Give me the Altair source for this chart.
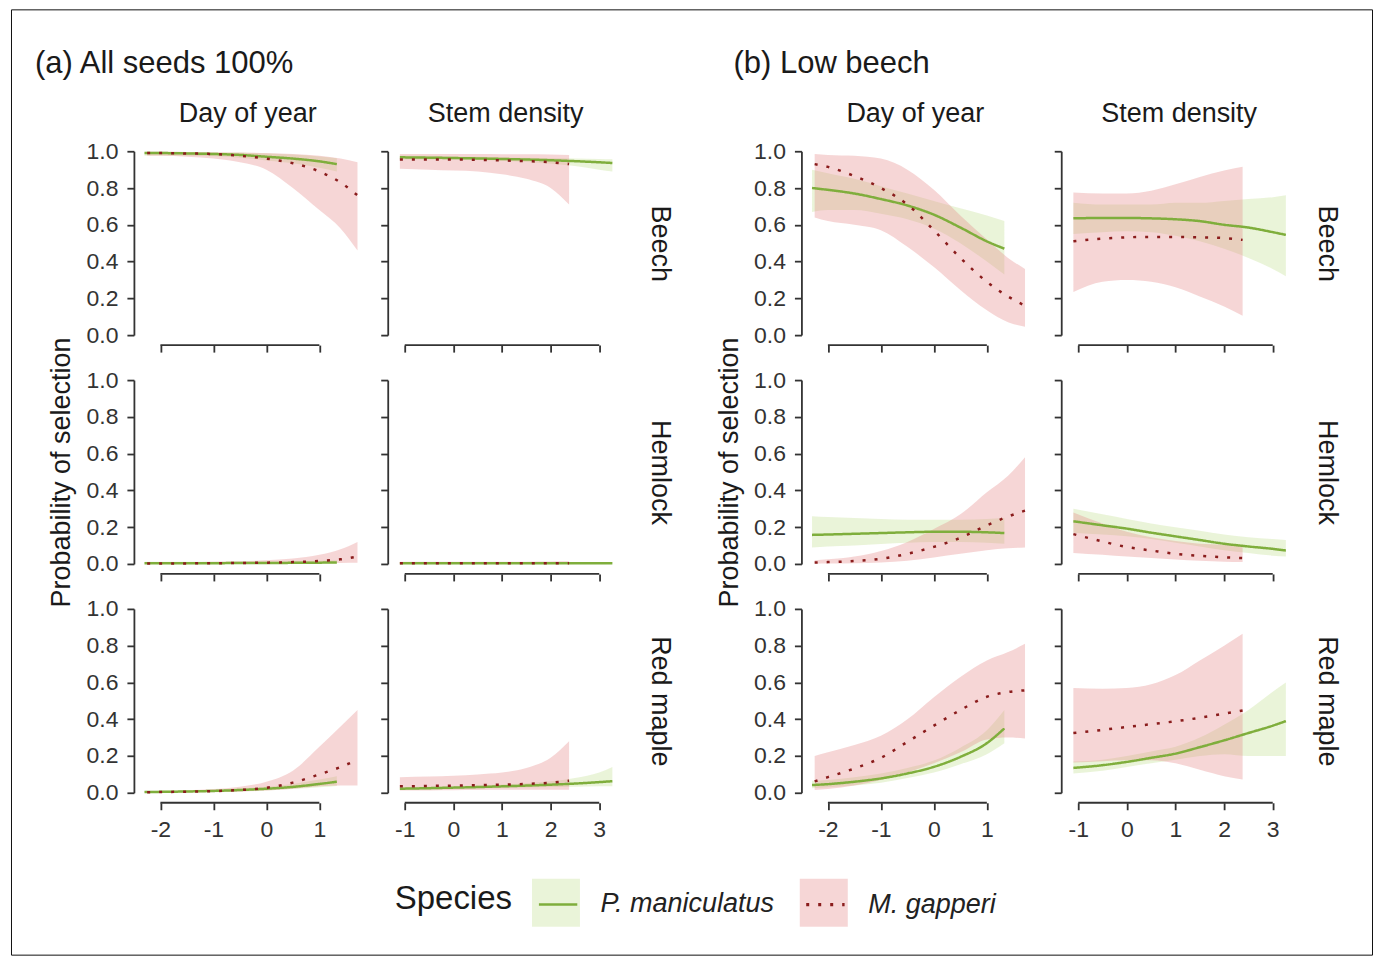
import altair as alt
import pandas as pd

# ---------------- categories / labels ----------------
species = ["P. maniculatus", "M. gapperi"]
trees = ["Beech", "Hemlock", "Red maple"]
variables = ["Day of year", "Stem density"]
group_titles = ["(a) All seeds 100%", "(b) Low beech"]

day_ticks = [-2, -1, 0, 1]
stem_ticks = [-1, 0, 1, 2, 3]
prob_ticks = [0.0, 0.2, 0.4, 0.6, 0.8, 1.0]

# ---------------- x grids (standardised covariate) ----------------
day_x_pm = [-2.3, -2.0, -1.5, -1.0, -0.5, 0.0, 0.5, 1.0, 1.33]
day_x_mg = [-2.25, -2.0, -1.5, -1.0, -0.5, 0.0, 0.5, 1.0, 1.4, 1.72]
stem_x_pm = [-1.1, -0.5, 0.0, 0.5, 1.0, 1.5, 2.0, 2.5, 3.0, 3.27]
stem_x_mg = [-1.1, -0.5, 0.0, 0.5, 1.0, 1.5, 2.0, 2.38]

# ---------------- (a) All seeds 100% ----------------
a_beech_day_pm_fit = [0.99, 0.99, 0.988, 0.985, 0.98, 0.97, 0.96, 0.945, 0.93]
a_beech_day_pm_lo = [0.975, 0.977, 0.976, 0.973, 0.965, 0.95, 0.935, 0.91, 0.89]
a_beech_day_pm_hi = [0.997, 0.997, 0.996, 0.995, 0.993, 0.988, 0.982, 0.972, 0.962]
a_beech_day_mg_fit = [0.99, 0.99, 0.988, 0.985, 0.975, 0.96, 0.935, 0.89, 0.83, 0.76]
a_beech_day_mg_lo = [0.975, 0.975, 0.97, 0.96, 0.94, 0.9, 0.8, 0.68, 0.58, 0.46]
a_beech_day_mg_hi = [0.997, 0.997, 0.996, 0.995, 0.993, 0.99, 0.985, 0.975, 0.96, 0.94]

a_hemlock_day_pm_fit = [0.004, 0.004, 0.004, 0.004, 0.005, 0.005, 0.006, 0.007, 0.008]
a_hemlock_day_pm_lo = [0.001, 0.001, 0.001, 0.001, 0.002, 0.002, 0.002, 0.002, 0.002]
a_hemlock_day_pm_hi = [0.012, 0.012, 0.012, 0.012, 0.012, 0.013, 0.015, 0.018, 0.02]
a_hemlock_day_mg_fit = [0.003, 0.003, 0.003, 0.004, 0.005, 0.007, 0.01, 0.016, 0.025, 0.04]
a_hemlock_day_mg_lo = [0.0, 0.0, 0.001, 0.001, 0.001, 0.002, 0.003, 0.004, 0.005, 0.006]
a_hemlock_day_mg_hi = [0.01, 0.01, 0.01, 0.012, 0.015, 0.02, 0.03, 0.05, 0.08, 0.12]

a_redmaple_day_pm_fit = [0.004, 0.005, 0.007, 0.01, 0.015, 0.022, 0.032, 0.048, 0.06]
a_redmaple_day_pm_lo = [0.002, 0.002, 0.003, 0.005, 0.008, 0.013, 0.02, 0.03, 0.037]
a_redmaple_day_pm_hi = [0.01, 0.011, 0.013, 0.017, 0.024, 0.033, 0.048, 0.072, 0.09]
a_redmaple_day_mg_fit = [0.003, 0.004, 0.006, 0.009, 0.015, 0.027, 0.055, 0.1, 0.14, 0.18]
a_redmaple_day_mg_lo = [0.001, 0.001, 0.002, 0.003, 0.006, 0.012, 0.022, 0.035, 0.04, 0.04]
a_redmaple_day_mg_hi = [0.008, 0.01, 0.014, 0.02, 0.033, 0.06, 0.12, 0.25, 0.36, 0.45]

a_beech_stem_pm_fit = [0.967, 0.965, 0.963, 0.961, 0.958, 0.955, 0.951, 0.946, 0.94, 0.936]
a_beech_stem_pm_lo = [0.955, 0.955, 0.955, 0.952, 0.948, 0.942, 0.932, 0.92, 0.9, 0.89]
a_beech_stem_pm_hi = [0.977, 0.975, 0.972, 0.97, 0.967, 0.965, 0.963, 0.96, 0.958, 0.956]
a_beech_stem_mg_fit = [0.955, 0.955, 0.955, 0.953, 0.95, 0.946, 0.94, 0.93]
a_beech_stem_mg_lo = [0.905, 0.9, 0.895, 0.89, 0.875, 0.85, 0.8, 0.71]
a_beech_stem_mg_hi = [0.985, 0.985, 0.985, 0.985, 0.984, 0.983, 0.982, 0.98]

a_hemlock_stem_pm_fit = [0.004, 0.004, 0.004, 0.004, 0.004, 0.004, 0.004, 0.004, 0.004, 0.004]
a_hemlock_stem_pm_lo = [0.002, 0.002, 0.002, 0.002, 0.002, 0.002, 0.002, 0.002, 0.002, 0.002]
a_hemlock_stem_pm_hi = [0.008, 0.008, 0.008, 0.008, 0.008, 0.008, 0.008, 0.009, 0.01, 0.01]
a_hemlock_stem_mg_fit = [0.004, 0.004, 0.004, 0.004, 0.004, 0.004, 0.004, 0.004]
a_hemlock_stem_mg_lo = [0.001, 0.001, 0.001, 0.001, 0.001, 0.001, 0.001, 0.001]
a_hemlock_stem_mg_hi = [0.012, 0.012, 0.012, 0.012, 0.012, 0.012, 0.013, 0.014]

a_redmaple_stem_pm_fit = [0.022, 0.025, 0.028, 0.031, 0.035, 0.039, 0.044, 0.05, 0.058, 0.063]
a_redmaple_stem_pm_lo = [0.015, 0.018, 0.021, 0.024, 0.027, 0.029, 0.031, 0.033, 0.035, 0.036]
a_redmaple_stem_pm_hi = [0.03, 0.033, 0.036, 0.04, 0.045, 0.052, 0.062, 0.08, 0.11, 0.14]
a_redmaple_stem_mg_fit = [0.035, 0.037, 0.039, 0.041, 0.044, 0.048, 0.055, 0.065]
a_redmaple_stem_mg_lo = [0.012, 0.013, 0.014, 0.015, 0.016, 0.016, 0.016, 0.016]
a_redmaple_stem_mg_hi = [0.085, 0.088, 0.092, 0.1, 0.11, 0.135, 0.19, 0.28]

# ---------------- (b) Low beech ----------------
b_beech_day_pm_fit = [0.80, 0.79, 0.77, 0.74, 0.705, 0.655, 0.585, 0.51, 0.47]
b_beech_day_pm_lo = [0.67, 0.68, 0.68, 0.66, 0.63, 0.58, 0.5, 0.4, 0.33]
b_beech_day_pm_hi = [0.9, 0.88, 0.85, 0.81, 0.77, 0.73, 0.69, 0.65, 0.62]
b_beech_day_mg_fit = [0.93, 0.915, 0.865, 0.8, 0.71, 0.57, 0.42, 0.29, 0.21, 0.16]
b_beech_day_mg_lo = [0.64, 0.62, 0.6, 0.57, 0.48, 0.37, 0.245, 0.135, 0.07, 0.045]
b_beech_day_mg_hi = [0.985, 0.98, 0.975, 0.96, 0.9, 0.79, 0.65, 0.52, 0.42, 0.36]

b_hemlock_day_pm_fit = [0.158, 0.16, 0.164, 0.168, 0.172, 0.175, 0.175, 0.172, 0.168]
b_hemlock_day_pm_lo = [0.09, 0.095, 0.1, 0.108, 0.115, 0.12, 0.12, 0.115, 0.11]
b_hemlock_day_pm_hi = [0.26, 0.255, 0.25, 0.245, 0.24, 0.24, 0.24, 0.245, 0.25]
b_hemlock_day_mg_fit = [0.008, 0.01, 0.016, 0.028, 0.055, 0.093, 0.142, 0.21, 0.258, 0.29]
b_hemlock_day_mg_lo = [0.001, 0.002, 0.004, 0.008, 0.018, 0.035, 0.055, 0.075, 0.085, 0.09]
b_hemlock_day_mg_hi = [0.02, 0.025, 0.04, 0.07, 0.12, 0.19, 0.27, 0.39, 0.48, 0.58]

b_redmaple_day_pm_fit = [0.042, 0.047, 0.06, 0.078, 0.105, 0.141, 0.195, 0.27, 0.35]
b_redmaple_day_pm_lo = [0.025, 0.03, 0.04, 0.055, 0.08, 0.11, 0.155, 0.21, 0.27]
b_redmaple_day_pm_hi = [0.065, 0.07, 0.085, 0.105, 0.135, 0.175, 0.245, 0.34, 0.45]
b_redmaple_day_mg_fit = [0.062, 0.085, 0.132, 0.19, 0.277, 0.365, 0.45, 0.522, 0.548, 0.557]
b_redmaple_day_mg_lo = [0.015, 0.02, 0.04, 0.07, 0.11, 0.16, 0.22, 0.29, 0.3, 0.295]
b_redmaple_day_mg_hi = [0.2, 0.22, 0.26, 0.31, 0.4, 0.52, 0.63, 0.72, 0.765, 0.81]

b_beech_stem_pm_fit = [0.635, 0.637, 0.637, 0.635, 0.63, 0.62, 0.6, 0.585, 0.56, 0.545]
b_beech_stem_pm_lo = [0.55, 0.56, 0.565, 0.56, 0.54, 0.51, 0.47, 0.42, 0.36, 0.32]
b_beech_stem_pm_hi = [0.72, 0.71, 0.71, 0.71, 0.72, 0.72, 0.73, 0.74, 0.75, 0.76]
b_beech_stem_mg_fit = [0.51, 0.525, 0.532, 0.534, 0.534, 0.532, 0.528, 0.518]
b_beech_stem_mg_lo = [0.235, 0.29, 0.3, 0.29, 0.26, 0.21, 0.155, 0.105]
b_beech_stem_mg_hi = [0.775, 0.77, 0.77, 0.785, 0.82, 0.86, 0.895, 0.915]

b_hemlock_stem_pm_fit = [0.232, 0.21, 0.192, 0.17, 0.15, 0.13, 0.11, 0.095, 0.082, 0.073]
b_hemlock_stem_pm_lo = [0.17, 0.16, 0.15, 0.135, 0.115, 0.095, 0.075, 0.06, 0.045, 0.04]
b_hemlock_stem_pm_hi = [0.3, 0.27, 0.245, 0.22, 0.2, 0.18, 0.16, 0.145, 0.135, 0.13]
b_hemlock_stem_mg_fit = [0.162, 0.122, 0.092, 0.073, 0.055, 0.044, 0.036, 0.032]
b_hemlock_stem_mg_lo = [0.06, 0.05, 0.04, 0.032, 0.024, 0.017, 0.012, 0.01]
b_hemlock_stem_mg_hi = [0.28, 0.22, 0.175, 0.145, 0.125, 0.11, 0.105, 0.1]

b_redmaple_stem_pm_fit = [0.135, 0.15, 0.168, 0.19, 0.213, 0.248, 0.285, 0.325, 0.365, 0.39]
b_redmaple_stem_pm_lo = [0.105, 0.12, 0.14, 0.16, 0.18, 0.2, 0.21, 0.2, 0.2, 0.2]
b_redmaple_stem_pm_hi = [0.17, 0.18, 0.2, 0.225, 0.25, 0.3, 0.37, 0.45, 0.55, 0.6]
b_redmaple_stem_mg_fit = [0.325, 0.342, 0.358, 0.373, 0.389, 0.408, 0.43, 0.448]
b_redmaple_stem_mg_lo = [0.165, 0.172, 0.177, 0.177, 0.16, 0.125, 0.09, 0.072]
b_redmaple_stem_mg_hi = [0.57, 0.566, 0.57, 0.59, 0.64, 0.72, 0.8, 0.865]

# ---------------- lookup tables built from the arrays above ----------------
G = globals()
tree_key = {"Beech": "beech", "Hemlock": "hemlock", "Red maple": "redmaple"}
var_key = {"Day of year": "day", "Stem density": "stem"}
x_grid = {"Day of year": (day_x_pm, day_x_mg), "Stem density": (stem_x_pm, stem_x_mg)}
x_ticks = {"Day of year": day_ticks, "Stem density": stem_ticks}

# ---------------- style ----------------
FONT = "Liberation Sans"
GREEN = "#7fae3c"
RED = "#8a1c1c"
GREEN_FILL = "#c3e092"
PINK_FILL = "#e58a8a"
AX = "#333333"
H = 184
WIDTH = {"Day of year": 228, "Stem density": 236}
XDOM = {"Day of year": [-2.5, 1.8], "Stem density": [-1.35, 3.5]}

# legend / frame positions are relative to the first panel's plot origin
LX, LY = 261, 728
LEG_TITLE_SIZE, LEG_LABEL_SIZE = 33, 27
TITLE_W = 3.557 * LEG_TITLE_SIZE      # advance width of "Species"
LABEL1_W = 6.558 * LEG_LABEL_SIZE     # advance width of italic "P. maniculatus"
TITLE_PAD, LABEL_OFF, COL_PAD, SYM = 20, 17, 25, 2304

# line keys (with the visible title and labels)
LEG_LINE = alt.Legend(
    title="Species", orient="none", legendX=LX, legendY=LY, direction="horizontal",
    titleOrient="left", titleFontSize=LEG_TITLE_SIZE, titleFontWeight="normal",
    titleColor="#1a1a1a", titlePadding=TITLE_PAD, titleAnchor="middle",
    titleBaseline="middle", titleLimit=400,
    labelFontSize=LEG_LABEL_SIZE, labelFontStyle="italic", labelColor="#222222",
    labelLimit=400, labelOffset=LABEL_OFF, columnPadding=COL_PAD,
    symbolSize=SYM, symbolType="M-0.8,0L0.8,0", symbolStrokeWidth=3, padding=0,
)
# ribbon keys drawn under the line keys (no text of their own)
LEG_FILL = alt.Legend(
    title=None, orient="none", legendX=LX + TITLE_W + TITLE_PAD, legendY=LY,
    direction="horizontal", labelExpr="''", labelFontSize=LEG_LABEL_SIZE,
    labelOffset=LABEL_OFF + LABEL1_W, columnPadding=COL_PAD, symbolSize=SYM,
    symbolType="square", symbolStrokeWidth=0, symbolOpacity=0.35, padding=0,
)
LEG_FRAME = alt.Legend(orient="none", legendX=-123, legendY=-142, direction="horizontal",
                       title=None, gradientLength=1362, gradientThickness=945,
                       gradientStrokeWidth=0, labelExpr="''", labelFontSize=1,
                       labelOffset=0, strokeColor="#111111", padding=0)


def panel_df(g, tree, var):
    rows = []
    pre = f"{g}_{tree_key[tree]}_{var_key[var]}"
    for sp, code, xs in zip(species, ["pm", "mg"], x_grid[var]):
        fit, lo, hi = G[f"{pre}_{code}_fit"], G[f"{pre}_{code}_lo"], G[f"{pre}_{code}_hi"]
        rows.append(pd.DataFrame({"x": xs, "fit": fit, "lo": lo, "hi": hi,
                                  "Species": sp, "Ribbon": sp}))
    return pd.concat(rows, ignore_index=True)


def panel(g, ti, vi):
    tree, var = trees[ti], variables[vi]
    df = panel_df(g, tree, var)
    W = WIDTH[var]
    xsc = alt.Scale(domain=XDOM[var], nice=False, zero=False)
    ysc = alt.Scale(domain=[0, 1], nice=False, zero=False)
    xaxis = alt.Axis(values=x_ticks[var], domain=False, offset=10, labels=(ti == 2),
                     labelExpr="'' + datum.value", title=None, grid=False)
    if vi == 0:
        yaxis = alt.Axis(values=prob_ticks, format=".1f", grid=False,
                         title="Probability of selection" if ti == 1 else None)
    else:
        yaxis = alt.Axis(values=prob_ticks, labels=False, grid=False, title=None)
    base = alt.Chart(df)
    area = base.mark_area(interpolate="monotone", opacity=0.35).encode(
        x=alt.X("x:Q", scale=xsc, axis=xaxis),
        y=alt.Y("lo:Q", scale=ysc, axis=yaxis),
        y2="hi:Q",
        fill=alt.Fill("Ribbon:N", sort=species,
                      scale=alt.Scale(range=[GREEN_FILL, PINK_FILL]), legend=LEG_FILL),
    )
    if vi == 1:
        line_axis = alt.Axis(orient="right", title=tree, labels=False, ticks=False,
                             domain=False, grid=False, titleAngle=90,
                             titlePadding=22 if g == "a" else 15,
                             titleFontSize=27, titleColor="#1a1a1a")
    else:
        line_axis = yaxis
    line = base.mark_line(interpolate="monotone", strokeWidth=2.5).encode(
        x=alt.X("x:Q", scale=xsc, axis=xaxis),
        y=alt.Y("fit:Q", scale=ysc, axis=line_axis),
        stroke=alt.Stroke("Species:N", scale=alt.Scale(domain=species, range=[GREEN, RED]),
                          legend=LEG_LINE),
        strokeDash=alt.StrokeDash("Species:N",
                                  scale=alt.Scale(domain=species, range=[[1, 0], [3, 9]]),
                                  legend=LEG_LINE),
        strokeWidth=alt.StrokeWidth("Species:N",
                                    scale=alt.Scale(domain=species, range=[2.5, 3.2]),
                                    legend=None),
    )
    cap_df = pd.DataFrame({"a": [x_ticks[var][0]], "b": [x_ticks[var][-1]]})
    cap_base = alt.Chart(cap_df)
    cap = cap_base.mark_rule(color=AX, strokeWidth=1.8).encode(
        x=alt.X("a:Q", scale=xsc, axis=xaxis), x2="b:Q", y=alt.value(H + 10))
    layers = [area, line, cap]
    if g == "a" and ti == 0 and vi == 0:
        # invisible mark whose (transparent) legend draws the figure's outer frame
        frame = cap_base.mark_point(opacity=0).encode(
            x=alt.X("a:Q", scale=xsc, axis=xaxis), y=alt.value(0),
            color=alt.Color("a:Q", scale=alt.Scale(domain=[0, 1],
                            range=["rgba(255,255,255,0)", "rgba(255,255,255,0)"]),
                            legend=LEG_FRAME))
        layers.append(frame)
    ch = alt.layer(*layers).properties(width=W, height=H)
    if vi == 1:
        ch = ch.resolve_axis(y="independent")
    if ti == 0:
        ch = ch.properties(title=alt.TitleParams(var, fontSize=27, fontWeight="normal",
                                                 anchor="middle", frame="group",
                                                 offset=12 if vi == 0 else 22,
                                                 color="#1a1a1a"))
    return ch


def group(gi):
    g = "ab"[gi]
    panels = [panel(g, ti, vi) for ti in range(3) for vi in range(2)]
    return alt.concat(*panels, columns=2, bounds="flush",
                      spacing={"row": 45, "column": 26 if gi == 0 else 32}).properties(
        title=alt.TitleParams(group_titles[gi], anchor="start", fontSize=31,
                              fontWeight="normal", offset=20, color="#1a1a1a",
                              dx=-13 if gi == 0 else 18))


chart = alt.hconcat(group(0), group(1), spacing=42).properties(
    padding={"left": 2, "top": 0, "right": 0, "bottom": 0}
).configure(font=FONT).configure_view(stroke=None).configure_axis(
    domainColor=AX, tickColor=AX, domainWidth=1.8, tickWidth=1.8, tickSize=7,
    labelFontSize=23, labelColor="#333333", labelPadding=9, titleFontSize=27,
    titleFontWeight="normal", titleColor="#1a1a1a", titlePadding=10,
)

chart.save("out.html", embed_options={"renderer": "svg", "actions": False})
